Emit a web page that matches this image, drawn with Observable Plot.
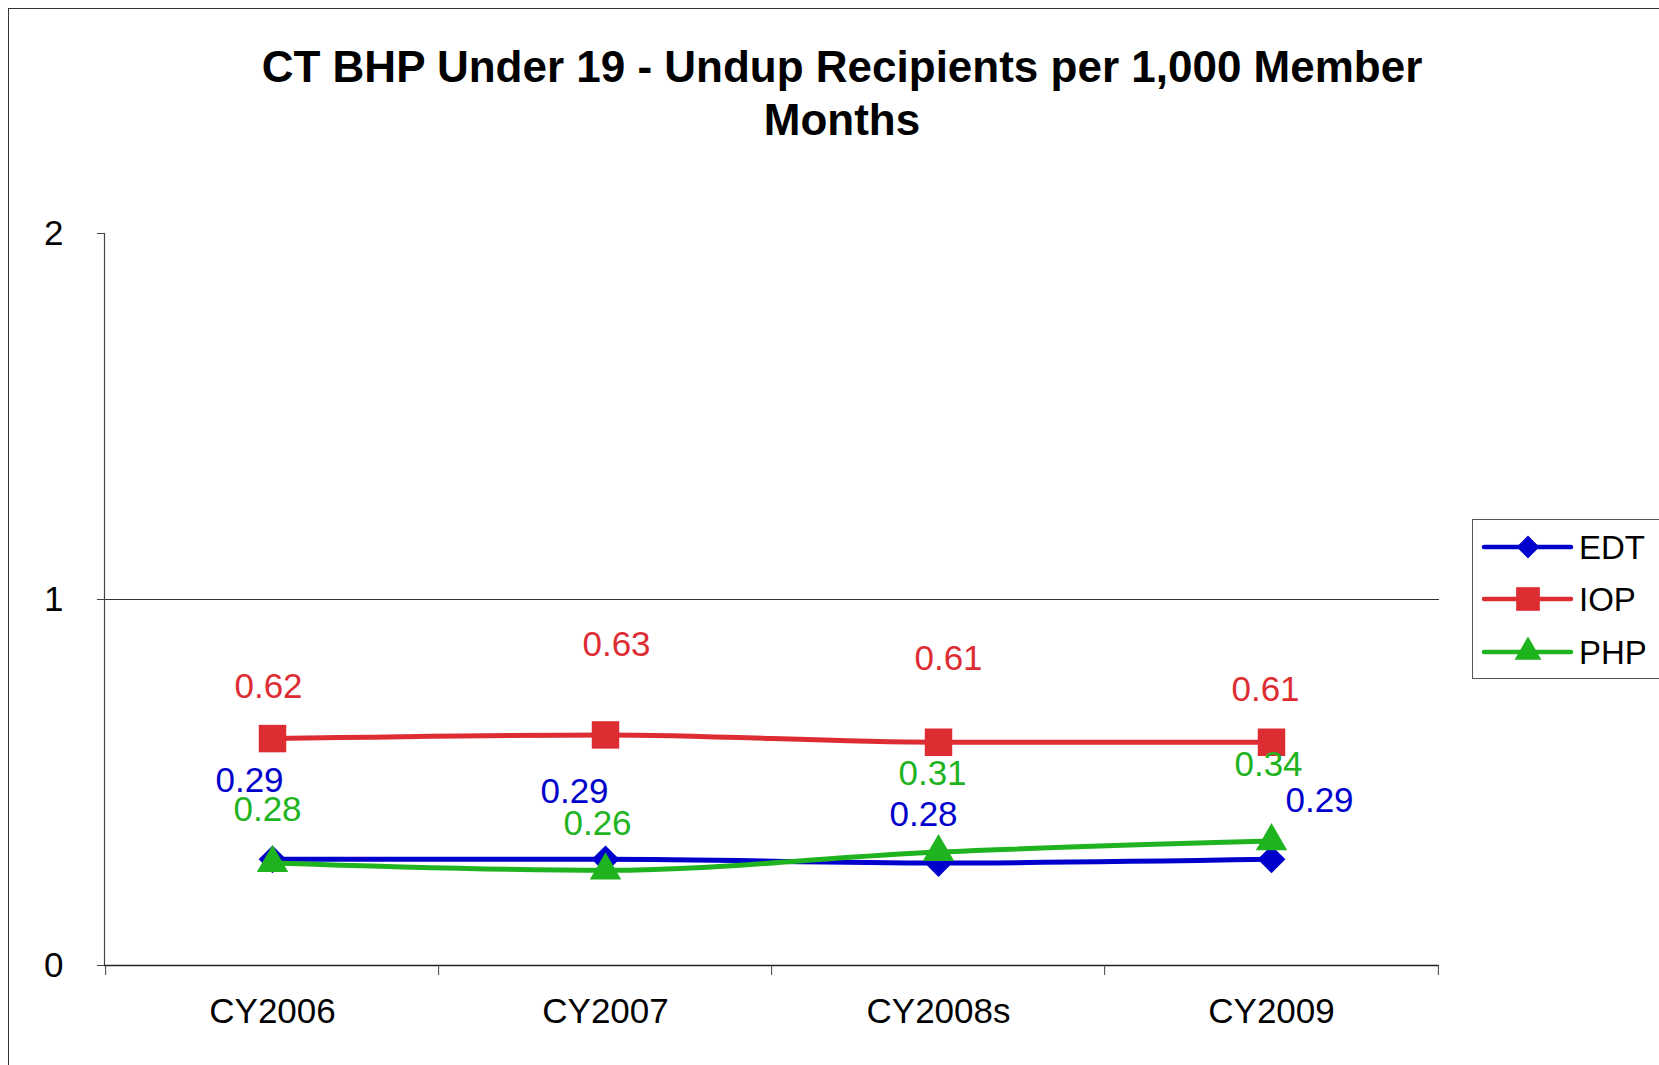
<!DOCTYPE html>
<html><head><meta charset="utf-8">
<script src="https://cdn.jsdelivr.net/npm/d3@7"></script>
<script src="https://cdn.jsdelivr.net/npm/@observablehq/plot@0.6"></script>
<style>
body{margin:0;background:#fff;font-family:"Liberation Sans",Arial,sans-serif;}
#wrap{position:relative;width:1659px;height:1065px;overflow:hidden;background:#fff;}
#border{position:absolute;left:8px;top:8px;width:1700px;height:1100px;border:1.5px solid #333;}
#title{position:absolute;left:0;width:1684px;top:40px;text-align:center;font-weight:bold;font-size:44px;line-height:53px;color:#000;}
#chart{position:absolute;left:0;top:0;}
#legend{position:absolute;left:1472px;top:519px;width:200px;height:158px;border:1.5px solid #555;background:#fff;}
#legend svg{position:absolute;left:0;top:0;}
</style></head>
<body>
<div id="wrap">
  <div id="border"></div>
  <div id="chart"></div>
  <div id="title">CT BHP Under 19 - Undup Recipients per 1,000 Member<br>Months</div>
  <div id="legend"></div>
</div>
<script>
// ---- data ----
const categories = ["CY2006", "CY2007", "CY2008s", "CY2009"];
const seriesNames = ["EDT", "IOP", "PHP"];
const edtValues = [0.29, 0.29, 0.28, 0.29];
const iopValues = [0.62, 0.63, 0.61, 0.61];
const phpValues = [0.28, 0.26, 0.31, 0.34];
const yTicks = [0, 1, 2];

// ---- styling / layout ----
const colors = {EDT: "#0000CC", IOP: "#DD2D33", PHP: "#1FB31F"};
const symbols = {EDT: "diamond2", IOP: "square", PHP: "triangle2"};
const radii = {EDT: 12.5, IOP: 15.5, PHP: 15};
const labelOffsets = {
  EDT: [[-23, -79], [-31, -68], [-15, -48], [48, -59]],
  IOP: [[-4, -52], [11, -90], [10, -83], [-6, -52]],
  PHP: [[-5, -53], [-8, -47], [-6, -78], [-3, -76]]
};
const W = 1659, H = 1065, mL = 104, mR = 220, mT = 233, mB = 100;
const bw = (W - mL - mR) / categories.length;
const fontFamily = "'Liberation Sans', Arial, sans-serif";

const valuesBySeries = {EDT: edtValues, IOP: iopValues, PHP: phpValues};
const rows = seriesNames.flatMap(s => categories.map((c, i) => ({series: s, cat: c, value: valuesBySeries[s][i], i})));

const seriesMarks = seriesNames.flatMap(s => {
  const data = rows.filter(d => d.series === s);
  return [
    Plot.line(data, {x: "cat", y: "value", stroke: colors[s], strokeWidth: 5, curve: "monotone-x"}),
    Plot.dot(data, {x: "cat", y: "value", symbol: symbols[s], r: radii[s], fill: colors[s], stroke: "none"})
  ];
});
const labelMarks = rows.map(d => Plot.text([d], {
  x: "cat", y: "value", text: r => r.value.toFixed(2), fill: colors[d.series],
  fontSize: 35, dx: labelOffsets[d.series][d.i][0], dy: labelOffsets[d.series][d.i][1]
}));

const chart = Plot.plot({
  width: W, height: H,
  marginLeft: mL, marginRight: mR, marginTop: mT, marginBottom: mB,
  style: {fontFamily, background: "transparent", color: "#222", overflow: "visible"},
  x: {type: "point", domain: categories, padding: 0.5},
  y: {domain: [0, 2]},
  marks: [
    Plot.ruleY([1], {stroke: "#333", strokeWidth: 1.2}),
    Plot.frame({anchor: "left", stroke: "#444", strokeWidth: 1.2}),
    Plot.ruleY([0], {stroke: "#222", strokeWidth: 1.5}),
    Plot.axisY({ticks: yTicks, tickSize: 7, tickPadding: 34, fontSize: 35, label: null, tickFormat: d => String(d), fill: "#000", stroke: "#444"}),
    Plot.axisX({tickSize: 0, tickPadding: 33, fontSize: 35, label: null, fill: "#000"}),
    Plot.axisX({tickSize: 10, fill: "none", label: null, dx: -bw / 2, stroke: "#444"}),
    Plot.axisX({ticks: [categories[categories.length - 1]], tickSize: 10, fill: "none", label: null, dx: bw / 2, stroke: "#444"}),
    ...seriesMarks,
    ...labelMarks
  ]
});
document.getElementById("chart").appendChild(chart);

// ---- legend ----
const leg = d3.select("#legend").append("svg").attr("width", 200).attr("height", 158);
const legendY = [27, 79, 132];
const legendSymbols = {EDT: d3.symbolDiamond2, IOP: d3.symbolSquare, PHP: d3.symbolTriangle2};
const legendSizes = {EDT: 330, IOP: 560, PHP: 520};
seriesNames.forEach((s, i) => {
  const g = leg.append("g").attr("transform", `translate(0,${legendY[i]})`);
  g.append("line").attr("x1", 11).attr("x2", 98).attr("y1", 0).attr("y2", 0)
    .attr("stroke", colors[s]).attr("stroke-width", 4.5).attr("stroke-linecap", "round");
  g.append("path").attr("transform", `translate(55,0)`)
    .attr("d", d3.symbol(legendSymbols[s], legendSizes[s])()).attr("fill", colors[s]);
  g.append("text").attr("x", 106).attr("y", 0).attr("dy", "0.36em")
    .attr("font-size", 33).attr("font-family", fontFamily).attr("fill", "#000").text(s);
});
</script>
</body></html>
